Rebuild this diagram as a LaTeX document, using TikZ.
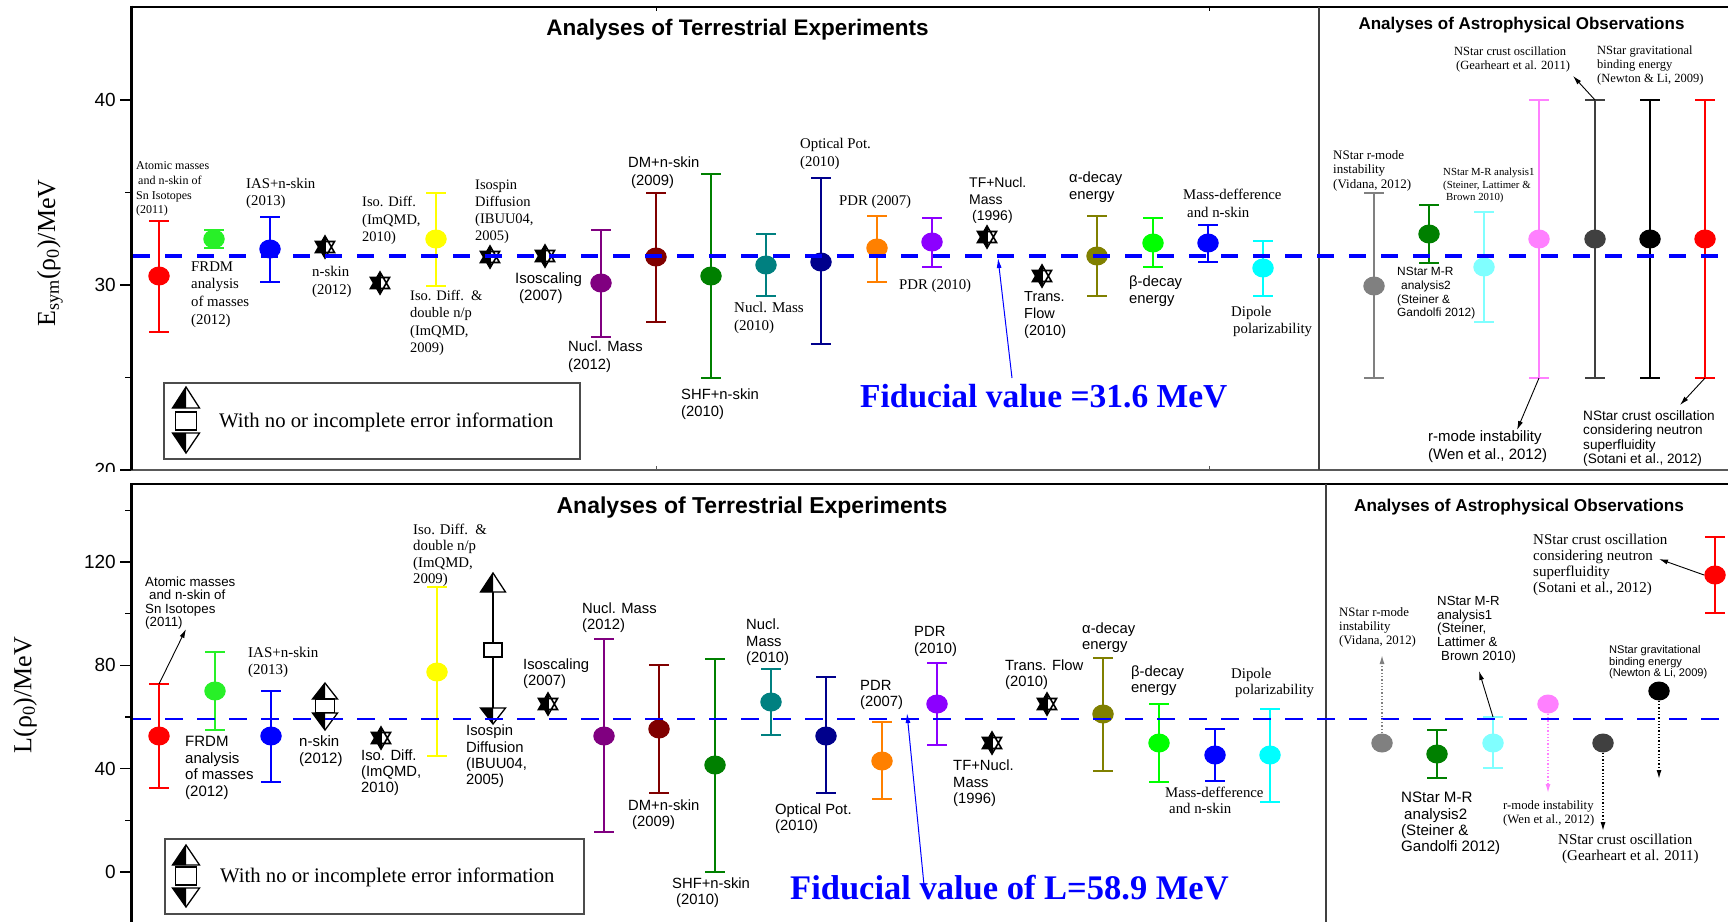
\documentclass[tikz,border=0pt]{standalone}
\usepackage{fontspec}
\setmainfont{Liberation Serif}
\setsansfont{Liberation Sans}
\usetikzlibrary{shapes.geometric,arrows.meta}
\definecolor{cgreen}{RGB}{40,240,40}
\definecolor{cpurple}{RGB}{128,0,128}
\definecolor{cdred}{RGB}{128,0,0}
\definecolor{cdgreen}{RGB}{0,128,0}
\definecolor{cteal}{RGB}{0,128,128}
\definecolor{cnavy}{RGB}{0,0,140}
\definecolor{corange}{RGB}{255,128,0}
\definecolor{cviolet}{RGB}{140,0,255}
\definecolor{colive}{RGB}{128,128,0}
\definecolor{cbgreen}{RGB}{0,255,0}
\definecolor{cgray}{RGB}{128,128,128}
\definecolor{clcyan}{RGB}{128,255,255}
\definecolor{ccyan}{RGB}{0,255,255}
\definecolor{cpink}{RGB}{255,128,255}
\definecolor{cdgray}{RGB}{64,64,64}
\definecolor{cyellow}{RGB}{255,255,0}
\definecolor{cblue}{RGB}{0,0,255}
\definecolor{cred}{RGB}{255,0,0}
\newcommand\fRm[2]{\fontsize{#1}{#2}\selectfont\rmfamily}
\newcommand\fSf[2]{\fontsize{#1}{#2}\selectfont\sffamily}
\tikzset{
  eb/.style={line width=1.3pt},
  mk/.style={ellipse, minimum width=21.5pt, minimum height=19pt, inner sep=0pt, draw=none},
  lb/.style={inner sep=0pt, anchor=west, align=left},
  ar/.style={-{Latex[length=9pt,width=5pt]}, line width=0.9pt},
  arb/.style={-{Latex[length=10pt,width=5pt]}, line width=1pt, cblue},
  dotar/.style={dotted, line width=1.3pt, -{Latex[length=9pt,width=5pt]}},
  axisline/.style={line width=3pt},
  tickl/.style={font=\fSf{19}{21}, anchor=east, inner sep=0pt},
}
\newcommand\datapt[6]{%
  \draw[eb,draw=#6] (#2-10,#4) -- (#2+10,#4) (#2,#4) -- (#2,#5) (#2-10,#5) -- (#2+10,#5);
  \node[mk,fill=#6] (#1) at (#2,#3) {};
  \coordinate (#1u) at (#2,#4);
  \coordinate (#1d) at (#2,#5);}
\newcommand\hstar[3]{%
  \coordinate (#1) at (#2,#3);
  \fill[white] (#2,#3-11) -- (#2-9.5,#3+5.5) -- (#2+9.5,#3+5.5) -- cycle;
  \fill[white] (#2,#3+11) -- (#2-9.5,#3-5.5) -- (#2+9.5,#3-5.5) -- cycle;
  \fill[black] (#2,#3-11) -- (#2-9.5,#3+5.5) -- (#2+1,#3+5.5) -- cycle;
  \fill[black] (#2,#3+11) -- (#2-9.5,#3-5.5) -- (#2+1,#3-5.5) -- cycle;
  \draw[line width=1.6pt, line join=miter] (#2,#3-11) -- (#2-9.5,#3+5.5) -- (#2+9.5,#3+5.5) -- cycle
     (#2,#3+11) -- (#2-9.5,#3-5.5) -- (#2+9.5,#3-5.5) -- cycle (#2,#3-11) -- (#2,#3+11);}
\newcommand\htri[4]{%
  \fill[white] (#1,#2) -- (#1-#4,#3) -- (#1+#4,#3) -- cycle;
  \fill[black] (#1,#2) -- (#1-#4,#3) -- (#1,#3) -- cycle;
  \draw[line width=1.3pt, line join=miter] (#1,#2) -- (#1-#4,#3) -- (#1+#4,#3) -- cycle;}
\begin{document}
\begin{tikzpicture}[x=1pt,y=-1pt]
\useasboundingbox (0,0) rectangle (1728,922);
\fill[white] (0,0) rectangle (1728,922);

% ================= TOP PANEL =================
\draw[line width=2pt] (131,7) -- (1728,7);
\draw[line width=1.5pt, black!65] (131,470) -- (1728,470);
\draw[line width=1.5pt, black!75] (1319,7) -- (1319,470);
\draw[line width=1pt] (656,7) -- (656,11) (1209,7) -- (1209,11);
\draw[line width=1pt, black!65] (656,470) -- (656,466) (1209,470) -- (1209,466);
\foreach \yy in {100,285,470} \draw[line width=1.5pt] (120,\yy) -- (131,\yy);
\foreach \yy in {192.5,377.5} \draw[line width=1.5pt] (125,\yy) -- (131,\yy);
\node[tickl] (ty40) at (116,100) {40};
\node[tickl] (ty30) at (116,285) {30};
\begin{scope}
\clip (0,0) rectangle (1728,471);
\node[tickl] (ty20) at (116,470) {20};
\end{scope}
\draw[axisline] (131,5.5) -- (131,470);
\node[rotate=90, font=\fRm{26}{30}] (yl1) at (50,253) {E\textsubscript{sym}(ρ\textsubscript{0})/MeV};

\node[font=\fSf{22.5}{25}\bfseries] (tt1) at (737.5,30) {Analyses of Terrestrial Experiments};
\node[font=\fSf{17}{20}\bfseries] (ta1) at (1521.5,25) {Analyses of Astrophysical Observations};

% legend top
\draw[line width=1.5pt, black!70] (164,383) rectangle (580,459);
\htri{186}{387}{408}{13.5}
\draw[line width=1.5pt, fill=white] (175.5,412) rectangle (196.5,430);
\htri{186}{453}{433}{13.5}
\node[lb,font=\fRm{20.7}{24}] (lg1) at (219,422) {With no or incomplete error information};

% data top
\datapt{t1}{159}{276}{221}{332}{cred}
\datapt{t2}{214}{239}{230}{248}{cgreen}
\datapt{t3}{270}{249}{217}{282}{cblue}
\hstar{t4}{325}{247}
\hstar{t5}{380}{283}
\datapt{t6}{436}{239}{193}{286}{cyellow}
\hstar{t7}{490}{257}
\hstar{t8}{545}{256}
\datapt{t9}{601}{283}{230}{337}{cpurple}
\datapt{t10}{656}{257}{193}{322}{cdred}
\datapt{t11}{711}{276}{174}{378}{cdgreen}
\datapt{t12}{766}{265}{234}{296}{cteal}
\datapt{t13}{821}{262}{178}{344}{cnavy}
\datapt{t14}{877}{248}{216}{282}{corange}
\datapt{t15}{932}{242}{218}{267}{cviolet}
\hstar{t16}{987}{237}
\hstar{t17}{1042}{276}
\datapt{t18}{1097}{256}{216}{296}{colive}
\datapt{t19}{1153}{243}{218}{267}{cbgreen}
\datapt{t20}{1208}{243}{225}{262}{cblue}
\datapt{t21}{1263}{268}{241}{296}{ccyan}
\datapt{t22}{1374}{286}{193}{378}{cgray}
\datapt{t23}{1429}{234}{205}{263}{cdgreen}
\datapt{t24}{1484}{267}{212}{322}{clcyan}
\datapt{t25}{1539}{239}{100}{378}{cpink}
\datapt{t26}{1595}{239}{100}{378}{cdgray}
\datapt{t27}{1650}{239}{100}{378}{black}
\datapt{t28}{1705}{239}{100}{378}{cred}

\draw[cblue, line width=4pt, dash pattern=on 17pt off 15pt] (133,256) -- (1728,256);

% labels top
\node[lb,font=\fRm{12}{14.7}] (la1) at (136,189) {Atomic masses\\\hspace*{2pt}and n-skin of\\Sn Isotopes\\(2011)};
\node[lb,font=\fRm{14.8}{17.7}] (la2) at (191,294.5) {FRDM\\analysis\\of masses\\(2012)};
\node[lb,font=\fRm{14.8}{17}] (la3) at (246,193.5) {IAS+n-skin\\(2013)};
\node[lb,font=\fRm{14.8}{18}] (la4) at (312,282) {n-skin\\(2012)};
\node[lb,font=\fRm{14.5}{17.5}] (la5) at (362,220.5) {Iso. Diff.\\(ImQMD,\\2010)};
\node[lb,font=\fRm{14.5}{17.3}] (la6) at (410,323) {Iso. Diff.~~\&\\double n/p\\(ImQMD,\\2009)};
\node[lb,font=\fRm{14.5}{17}] (la7) at (475,211.5) {Isospin\\Diffusion\\(IBUU04,\\2005)};
\node[lb,font=\fSf{15}{17}] (la8) at (515,288.5) {Isoscaling\\\hspace*{4pt}(2007)};
\node[lb,font=\fSf{14.8}{18}] (la9) at (568,357) {Nucl. Mass\\(2012)};
\node[lb,font=\fSf{14.8}{18}] (la10) at (628,173) {DM+n-skin\\\hspace*{3pt}(2009)};
\node[lb,font=\fSf{14.8}{17}] (la11) at (681,404.5) {SHF+n-skin\\(2010)};
\node[lb,font=\fRm{15}{18}] (la12) at (734,318) {Nucl. Mass\\(2010)};
\node[lb,font=\fRm{14.8}{18}] (la13) at (800,154) {Optical Pot.\\(2010)};
\node[lb,font=\fRm{14.8}{17}] (la14) at (839,202) {PDR (2007)};
\node[lb,font=\fRm{14.8}{17}] (la15) at (899,286) {PDR (2010)};
\node[lb,font=\fSf{14}{16.5}] (la16) at (969,200.5) {TF+Nucl.\\Mass\\\hspace*{3pt}(1996)};
\node[lb,font=\fSf{14.5}{17}] (la17) at (1024,315) {Trans.\\Flow\\(2010)};
\node[lb,font=\fSf{14.8}{17}] (la18) at (1069,187.5) {α-decay\\energy};
\node[lb,font=\fSf{14.8}{17}] (la19) at (1129,291.5) {β-decay\\energy};
\node[lb,font=\fRm{14.8}{18}] (la20) at (1183,203) {Mass-defference\\\hspace*{4pt}and n-skin};
\node[lb,font=\fRm{14.8}{17}] (la21) at (1231,321.5) {Dipole\\\hspace*{2pt}polarizability};
\node[lb,font=\fRm{12.5}{14.7}] (la22) at (1454,59.5) {NStar crust oscillation\\\hspace*{2pt}(Gearheart et al. 2011)};
\node[lb,font=\fRm{12.5}{14}] (la23) at (1597,65) {NStar gravitational\\binding energy\\(Newton \& Li, 2009)};
\node[lb,font=\fRm{13}{14.5}] (la24) at (1333,170.5) {NStar r-mode\\instability\\(Vidana, 2012)};
\node[lb,font=\fRm{10.8}{12.5}] (la25) at (1443,185.5) {NStar M-R analysis1\\(Steiner, Lattimer \&\\\hspace*{3pt}Brown 2010)};
\node[lb,font=\fSf{11.9}{13.7}] (la26) at (1397,293.5) {NStar M-R\\\hspace*{4pt}analysis2\\(Steiner \&\\Gandolfi 2012)};
\node[lb,font=\fSf{15}{18}] (la27) at (1428,447) {r-mode instability\\(Wen et al., 2012)};
\node[lb,font=\fSf{13.6}{14.3}] (la28) at (1583,438.5) {NStar crust oscillation\\considering neutron\\superfluidity\\(Sotani et al., 2012)};

\node[lb,font=\fRm{33.5}{36}\bfseries,text=cblue] (fid1) at (860,396) {Fiducial value =31.6 MeV};

% arrows top
\coordinate (cGe) at (1573,76);
\coordinate (cWe) at (1517,430);
\coordinate (cSo) at (1680,405);
\coordinate (cF1s) at (1012,378);
\coordinate (cF1e) at (998,258);
\draw[ar] (t26u) -- (cGe);
\draw[ar] (t25d) -- (cWe);
\draw[ar] (t28d) -- (cSo);
\draw[arb] (cF1s) -- (cF1e);

% ================= BOTTOM PANEL =================
\draw[line width=2.5pt] (131,484) -- (1728,484);
\draw[line width=1.5pt, black!75] (1326,484) -- (1326,922);
\foreach \yy in {562,665.3,768.7,872} \draw[line width=1.5pt] (120,\yy) -- (131,\yy);
\foreach \yy in {510.3,613.7,717,820.3} \draw[line width=1.5pt] (125,\yy) -- (131,\yy);
\draw[axisline] (131,483) -- (131,922);
\node[tickl] (tl120) at (116,562) {120};
\node[tickl] (tl80) at (116,665.3) {80};
\node[tickl] (tl40) at (116,768.7) {40};
\node[tickl] (tl0) at (116,872) {0};
\node[rotate=90, font=\fRm{26}{30}] (yl2) at (25,695) {L(ρ\textsubscript{0})/MeV};

\node[font=\fSf{23}{25}\bfseries] (tt2) at (752,508) {Analyses of Terrestrial Experiments};
\node[font=\fSf{17.2}{20}\bfseries] (ta2) at (1519,507) {Analyses of Astrophysical Observations};

% legend bottom
\draw[line width=1.5pt, black!70] (165,839) rectangle (584,914);
\htri{186}{845}{865}{13.5}
\draw[line width=1.5pt, fill=white] (175.5,867) rectangle (196.5,885);
\htri{186}{907}{888}{13.5}
\node[lb,font=\fRm{20.7}{24}] (lg2) at (220,877) {With no or incomplete error information};

% data bottom
\datapt{b1}{159}{736}{684}{788}{cred}
\datapt{b2}{215}{691}{652}{730}{cgreen}
\datapt{b3}{271}{736}{691}{782}{cblue}
% n-skin (2012) symbol
\coordinate (b4) at (325,706);
\htri{325}{683}{699}{12.5}
\draw[line width=1.5pt, fill=white] (315.5,699) rectangle (334.5,713);
\htri{325}{730}{713}{12.5}
\hstar{b5}{381}{738}
\datapt{b6}{437}{672}{587}{756}{cyellow}
% Isospin diffusion symbol
\coordinate (b7u) at (493,592);
\coordinate (b7d) at (493,708);
\draw[line width=1.3pt] (b7u) -- (b7d);
\htri{493}{573}{592}{12.5}
\draw[line width=1.5pt, fill=white] (484,643) rectangle (502,657);
\htri{493}{724}{708}{12.5}
\hstar{b8}{548}{704}
\datapt{b9}{604}{736}{639}{832}{cpurple}
\datapt{b10}{659}{729}{665}{793}{cdred}
\datapt{b11}{715}{765}{659}{872}{cdgreen}
\datapt{b12}{771}{702}{669}{735}{cteal}
\datapt{b13}{826}{736}{677}{793}{cnavy}
\datapt{b14}{882}{761}{722}{799}{corange}
\datapt{b15}{937}{704}{663}{745}{cviolet}
\hstar{b16}{992}{743}
\hstar{b17}{1047}{704}
\datapt{b18}{1103}{714}{658}{771}{colive}
\datapt{b19}{1159}{743}{704}{782}{cbgreen}
\datapt{b20}{1215}{755}{729}{781}{cblue}
\datapt{b21}{1270}{755}{709}{802}{ccyan}
\node[mk,fill=cgray] (b22) at (1382,743) {};
\datapt{b23}{1437}{754}{730}{778}{cdgreen}
\datapt{b24}{1493}{743}{717}{768}{clcyan}
\node[mk,fill=cpink] (b25) at (1548,704) {};
\node[mk,fill=cdgray] (b26) at (1603,743) {};
\node[mk,fill=black] (b27) at (1659,691) {};
\datapt{b28}{1715}{575}{537}{613}{cred}

\draw[cblue, line width=2.5pt, dash pattern=on 18pt off 14pt] (133,719) -- (1728,719);

% labels bottom
\node[lb,font=\fSf{13.3}{13.5}] (lb1) at (145,603) {Atomic masses\\\hspace*{4pt}and n-skin of\\Sn Isotopes\\(2011)};
\node[lb,font=\fSf{15}{16.7}] (lb2) at (185,768) {FRDM\\analysis\\of masses\\(2012)};
\node[lb,font=\fRm{15}{16.7}] (lb3) at (248,662.5) {IAS+n-skin\\(2013)};
\node[lb,font=\fSf{15}{16.3}] (lb4) at (299,751) {n-skin\\(2012)};
\node[lb,font=\fSf{14.8}{16}] (lb5) at (361,773) {Iso. Diff.\\(ImQMD,\\2010)};
\node[lb,font=\fRm{14.8}{16.3}] (lb6) at (413,555.5) {Iso. Diff.~~\&\\double n/p\\(ImQMD,\\2009)};
\node[lb,font=\fSf{14.8}{16.3}] (lb7) at (466,756.5) {Isospin\\Diffusion\\(IBUU04,\\2005)};
\node[lb,font=\fSf{14.8}{16}] (lb8) at (523,674) {Isoscaling\\(2007)};
\node[lb,font=\fSf{14.8}{16}] (lb9) at (582,618) {Nucl. Mass\\(2012)};
\node[lb,font=\fSf{14.8}{16}] (lb10) at (628,815) {DM+n-skin\\\hspace*{4pt}(2009)};
\node[lb,font=\fSf{14.8}{16.5}] (lb11) at (672,892.5) {SHF+n-skin\\\hspace*{4pt}(2010)};
\node[lb,font=\fSf{14.8}{16.5}] (lb12) at (746,642.5) {Nucl.\\Mass\\(2010)};
\node[lb,font=\fSf{14.8}{16}] (lb13) at (775,819) {Optical Pot.\\(2010)};
\node[lb,font=\fSf{14.8}{16}] (lb14) at (860,695) {PDR\\(2007)};
\node[lb,font=\fSf{14.8}{16.5}] (lb15) at (914,641.5) {PDR\\(2010)};
\node[lb,font=\fSf{14.8}{16}] (lb16) at (1005,675) {Trans. Flow\\(2010)};
\node[lb,font=\fSf{14.8}{16.5}] (lb17) at (953,783.5) {TF+Nucl.\\Mass\\(1996)};
\node[lb,font=\fSf{14.8}{16}] (lb18) at (1082,638) {α-decay\\energy};
\node[lb,font=\fSf{14.8}{16}] (lb19) at (1131,681) {β-decay\\energy};
\node[lb,font=\fRm{14.8}{16}] (lb20) at (1231,683) {Dipole\\\hspace*{4pt}polarizability};
\node[lb,font=\fRm{14.8}{16}] (lb21) at (1165,800) {Mass-defference\\\hspace*{4pt}and n-skin};
\node[lb,font=\fRm{15}{16}] (lb22) at (1533,565) {NStar crust oscillation\\considering neutron\\superfluidity\\(Sotani et al., 2012)};
\node[lb,font=\fRm{12.8}{14}] (lb23) at (1339,627) {NStar r-mode\\instability\\(Vidana, 2012)};
\node[lb,font=\fSf{13.2}{13.75}] (lb24) at (1437,629.5) {NStar M-R\\analysis1\\(Steiner,\\Lattimer \&\\\hspace*{4pt}Brown 2010)};
\node[lb,font=\fSf{11.1}{11.5}] (lb25) at (1609,662.5) {NStar gravitational\\binding energy\\(Newton \& Li, 2009)};
\node[lb,font=\fSf{15.1}{16.3}] (lb26) at (1401,823.5) {NStar M-R\\\hspace*{3pt}analysis2\\(Steiner \&\\Gandolfi 2012)};
\node[lb,font=\fRm{12.7}{14}] (lb27) at (1503,813) {r-mode instability\\(Wen et al., 2012)};
\node[lb,font=\fRm{15}{16}] (lb28) at (1558,849) {NStar crust oscillation\\\hspace*{4pt}(Gearheart et al. 2011)};

\node[lb,font=\fRm{34.5}{36}\bfseries,text=cblue] (fid2) at (790,888) {Fiducial value of L=58.9 MeV};

% arrows bottom
\coordinate (cAt) at (186,629);
\coordinate (cMR) at (1479,671);
\coordinate (cSo2) at (1659,559);
\coordinate (cVi) at (1382,655);
\coordinate (cWe2) at (1548,793);
\coordinate (cGe2) at (1603,831);
\coordinate (cNe) at (1659,779);
\coordinate (cF2s) at (924,885);
\coordinate (cF2e) at (907,713);
\draw[ar] (b1u) -- (cAt);
\draw[ar] (b24u) -- (cMR);
\draw[ar] (b28.west) -- (cSo2);
\draw[dotar, cgray] (b22.north) -- (cVi);
\draw[dotar, cpink] (b25.south) -- (cWe2);
\draw[dotar, black] (b26.south) -- (cGe2);
\draw[dotar, black] (b27.south) -- (cNe);
\draw[arb] (cF2s) -- (cF2e);
\end{tikzpicture}
\end{document}
